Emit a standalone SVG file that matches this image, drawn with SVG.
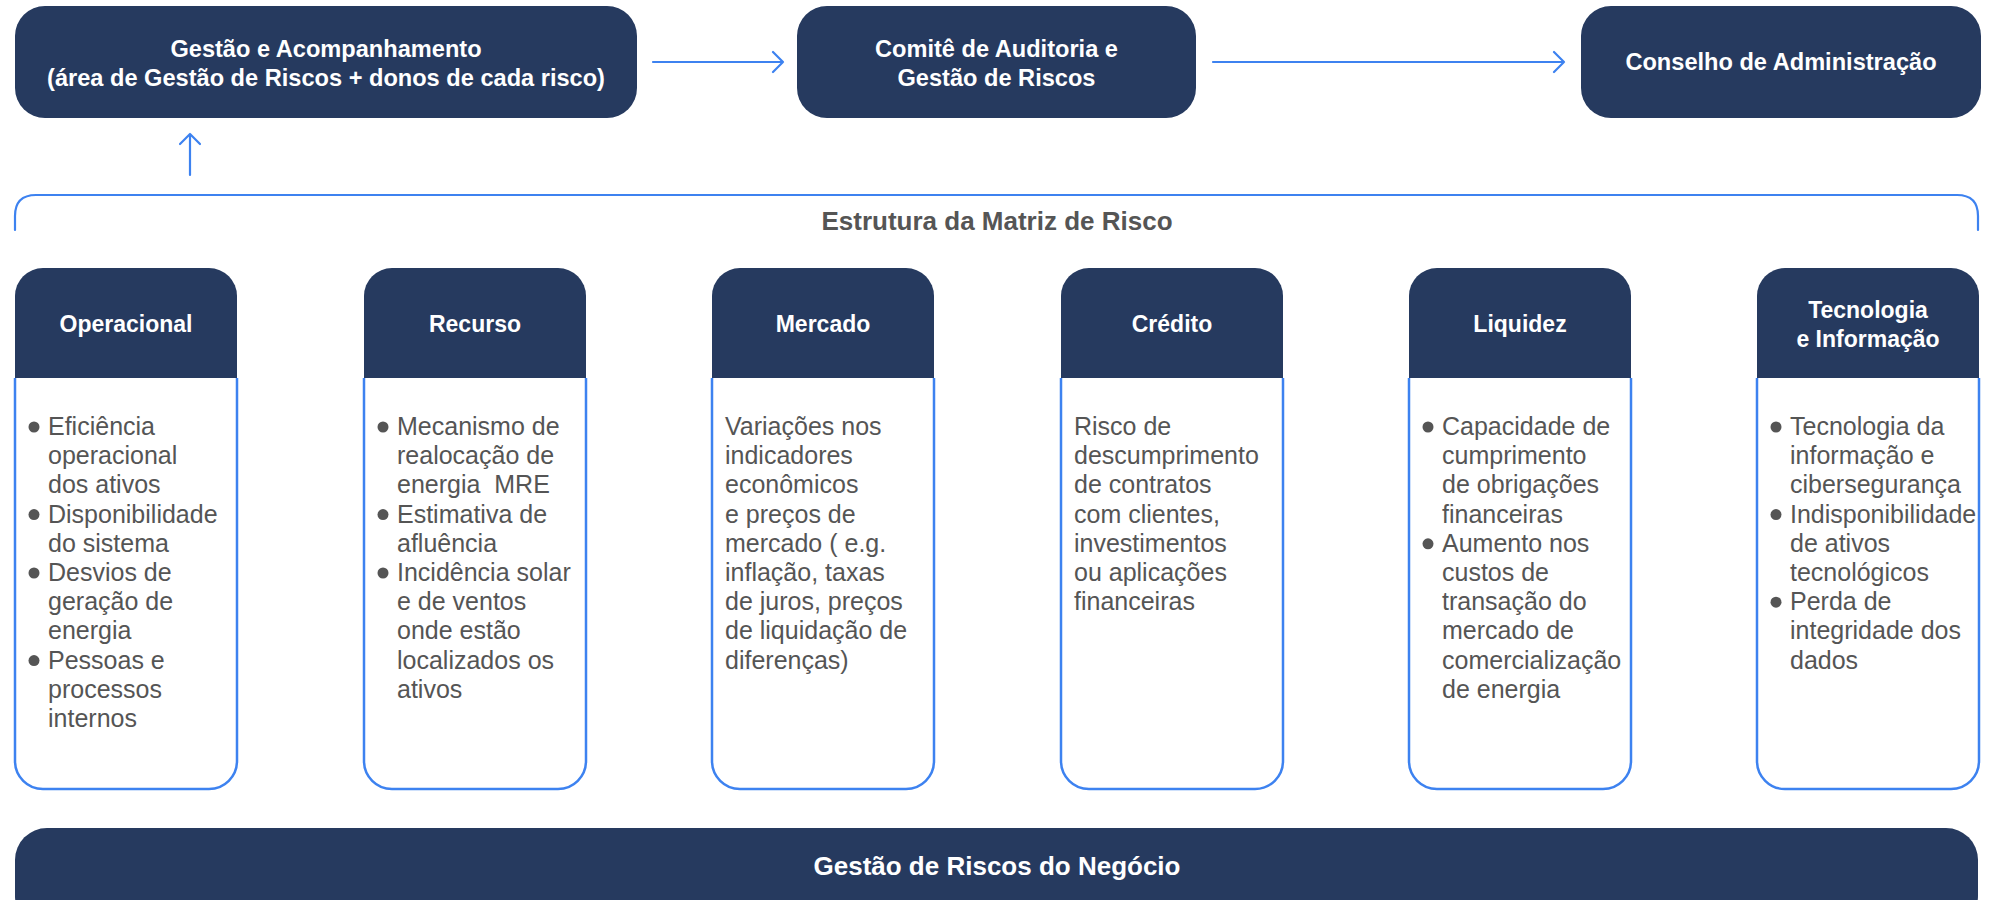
<svg xmlns="http://www.w3.org/2000/svg" width="1991" height="900" viewBox="0 0 1991 900">
<defs>
<style>
.box{fill:#263a5f}
.wt{fill:#ffffff;font-family:"Liberation Sans",Arial,sans-serif;font-weight:bold;font-size:23.6px;text-anchor:middle}
.hd{font-size:23px}
.big{font-size:26px}
.body{fill:#ffffff;stroke:#3d82f0;stroke-width:2.5}
.bt{fill:#555555;font-family:"Liberation Sans",Arial,sans-serif;font-size:25px}
.bul{fill:#555555}
.ln{fill:none;stroke:#3d82f0;stroke-width:2.2;stroke-linecap:round;stroke-linejoin:round}
.ttl{fill:#555555;font-family:"Liberation Sans",Arial,sans-serif;font-weight:bold;font-size:26px;text-anchor:middle}
</style>
<path id="hdr" d="M0,378 V296 A28 28 0 0 1 28,268 H194 A28 28 0 0 1 222,296 V378 Z"/>
<path id="bdy" d="M0,378 V761 A28 28 0 0 0 28,789 H194 A28 28 0 0 0 222,761 V378"/>
</defs>
<rect width="1991" height="900" fill="#ffffff"/>

<g id="gestao-acompanhamento">
<rect class="box" x="15" y="6" width="622" height="112" rx="30"/>
<text class="wt" x="326" y="57">Gestão e Acompanhamento</text>
<text class="wt" x="326" y="86">(área de Gestão de Riscos + donos de cada risco)</text>
</g>
<g id="comite">
<rect class="box" x="797" y="6" width="399" height="112" rx="30"/>
<text class="wt" x="996.5" y="57">Comitê de Auditoria e</text>
<text class="wt" x="996.5" y="86">Gestão de Riscos</text>
</g>
<g id="conselho">
<rect class="box" x="1581" y="6" width="400" height="112" rx="30"/>
<text class="wt" x="1781" y="70">Conselho de Administração</text>
</g>

<g id="connectors">
<path class="ln" d="M653,62 H783 M773,52 L783,62 L773,72"/>
<path class="ln" d="M1213,62 H1564 M1554,52 L1564,62 L1554,72"/>
<path class="ln" d="M190,175 V134 M180,144 L190,134 L200,144"/>
<path class="ln" d="M15,230 V216 Q15,195 36,195 H1957 Q1978,195 1978,216 V230"/>
</g>

<g id="estrutura">
<text class="ttl" x="997" y="230">Estrutura da Matriz de Risco</text>
</g>

<g id="operacional" transform="translate(15,0)">
<use href="#hdr" class="box"/>
<use href="#bdy" class="body"/>
<text class="wt hd" x="111" y="332">Operacional</text>
<circle class="bul" cx="19" cy="427" r="5.5"/>
<circle class="bul" cx="19" cy="514.6" r="5.5"/>
<circle class="bul" cx="19" cy="573" r="5.5"/>
<circle class="bul" cx="19" cy="660.6" r="5.5"/>
<text class="bt" y="435"><tspan x="33">Eficiência</tspan><tspan x="33" dy="29.2">operacional</tspan><tspan x="33" dy="29.2">dos ativos</tspan><tspan x="33" dy="29.2">Disponibilidade</tspan><tspan x="33" dy="29.2">do sistema</tspan><tspan x="33" dy="29.2">Desvios de</tspan><tspan x="33" dy="29.2">geração de</tspan><tspan x="33" dy="29.2">energia</tspan><tspan x="33" dy="29.2">Pessoas e</tspan><tspan x="33" dy="29.2">processos</tspan><tspan x="33" dy="29.2">internos</tspan></text>
</g>

<g id="recurso" transform="translate(364,0)">
<use href="#hdr" class="box"/>
<use href="#bdy" class="body"/>
<text class="wt hd" x="111" y="332">Recurso</text>
<circle class="bul" cx="19" cy="427" r="5.5"/>
<circle class="bul" cx="19" cy="514.6" r="5.5"/>
<circle class="bul" cx="19" cy="573" r="5.5"/>
<text class="bt" y="435"><tspan x="33">Mecanismo de</tspan><tspan x="33" dy="29.2">realocação de</tspan><tspan x="33" dy="29.2">energia&#160; MRE</tspan><tspan x="33" dy="29.2">Estimativa de</tspan><tspan x="33" dy="29.2">afluência</tspan><tspan x="33" dy="29.2">Incidência solar</tspan><tspan x="33" dy="29.2">e de ventos</tspan><tspan x="33" dy="29.2">onde estão</tspan><tspan x="33" dy="29.2">localizados os</tspan><tspan x="33" dy="29.2">ativos</tspan></text>
</g>

<g id="mercado" transform="translate(712,0)">
<use href="#hdr" class="box"/>
<use href="#bdy" class="body"/>
<text class="wt hd" x="111" y="332">Mercado</text>
<text class="bt" y="435"><tspan x="13">Variações nos</tspan><tspan x="13" dy="29.2">indicadores</tspan><tspan x="13" dy="29.2">econômicos</tspan><tspan x="13" dy="29.2">e preços de</tspan><tspan x="13" dy="29.2">mercado ( e.g.</tspan><tspan x="13" dy="29.2">inflação, taxas</tspan><tspan x="13" dy="29.2">de juros, preços</tspan><tspan x="13" dy="29.2">de liquidação de</tspan><tspan x="13" dy="29.2">diferenças)</tspan></text>
</g>

<g id="credito" transform="translate(1061,0)">
<use href="#hdr" class="box"/>
<use href="#bdy" class="body"/>
<text class="wt hd" x="111" y="332">Crédito</text>
<text class="bt" y="435"><tspan x="13">Risco de</tspan><tspan x="13" dy="29.2">descumprimento</tspan><tspan x="13" dy="29.2">de contratos</tspan><tspan x="13" dy="29.2">com clientes,</tspan><tspan x="13" dy="29.2">investimentos</tspan><tspan x="13" dy="29.2">ou aplicações</tspan><tspan x="13" dy="29.2">financeiras</tspan></text>
</g>

<g id="liquidez" transform="translate(1409,0)">
<use href="#hdr" class="box"/>
<use href="#bdy" class="body"/>
<text class="wt hd" x="111" y="332">Liquidez</text>
<circle class="bul" cx="19" cy="427" r="5.5"/>
<circle class="bul" cx="19" cy="543.8" r="5.5"/>
<text class="bt" y="435"><tspan x="33">Capacidade de</tspan><tspan x="33" dy="29.2">cumprimento</tspan><tspan x="33" dy="29.2">de obrigações</tspan><tspan x="33" dy="29.2">financeiras</tspan><tspan x="33" dy="29.2">Aumento nos</tspan><tspan x="33" dy="29.2">custos de</tspan><tspan x="33" dy="29.2">transação do</tspan><tspan x="33" dy="29.2">mercado de</tspan><tspan x="33" dy="29.2">comercialização</tspan><tspan x="33" dy="29.2">de energia</tspan></text>
</g>

<g id="tecnologia" transform="translate(1757,0)">
<use href="#hdr" class="box"/>
<use href="#bdy" class="body"/>
<text class="wt hd" x="111" y="318">Tecnologia</text>
<text class="wt hd" x="111" y="347">e Informação</text>
<circle class="bul" cx="19" cy="427" r="5.5"/>
<circle class="bul" cx="19" cy="514.6" r="5.5"/>
<circle class="bul" cx="19" cy="602.2" r="5.5"/>
<text class="bt" y="435"><tspan x="33">Tecnologia da</tspan><tspan x="33" dy="29.2">informação e</tspan><tspan x="33" dy="29.2">cibersegurança</tspan><tspan x="33" dy="29.2">Indisponibilidade</tspan><tspan x="33" dy="29.2">de ativos</tspan><tspan x="33" dy="29.2">tecnológicos</tspan><tspan x="33" dy="29.2">Perda de</tspan><tspan x="33" dy="29.2">integridade dos</tspan><tspan x="33" dy="29.2">dados</tspan></text>
</g>

<g id="gestao-riscos-negocio">
<rect class="box" x="15" y="828" width="1963" height="100" rx="32"/>
<text class="wt big" x="997" y="875">Gestão de Riscos do Negócio</text>
</g>
</svg>
